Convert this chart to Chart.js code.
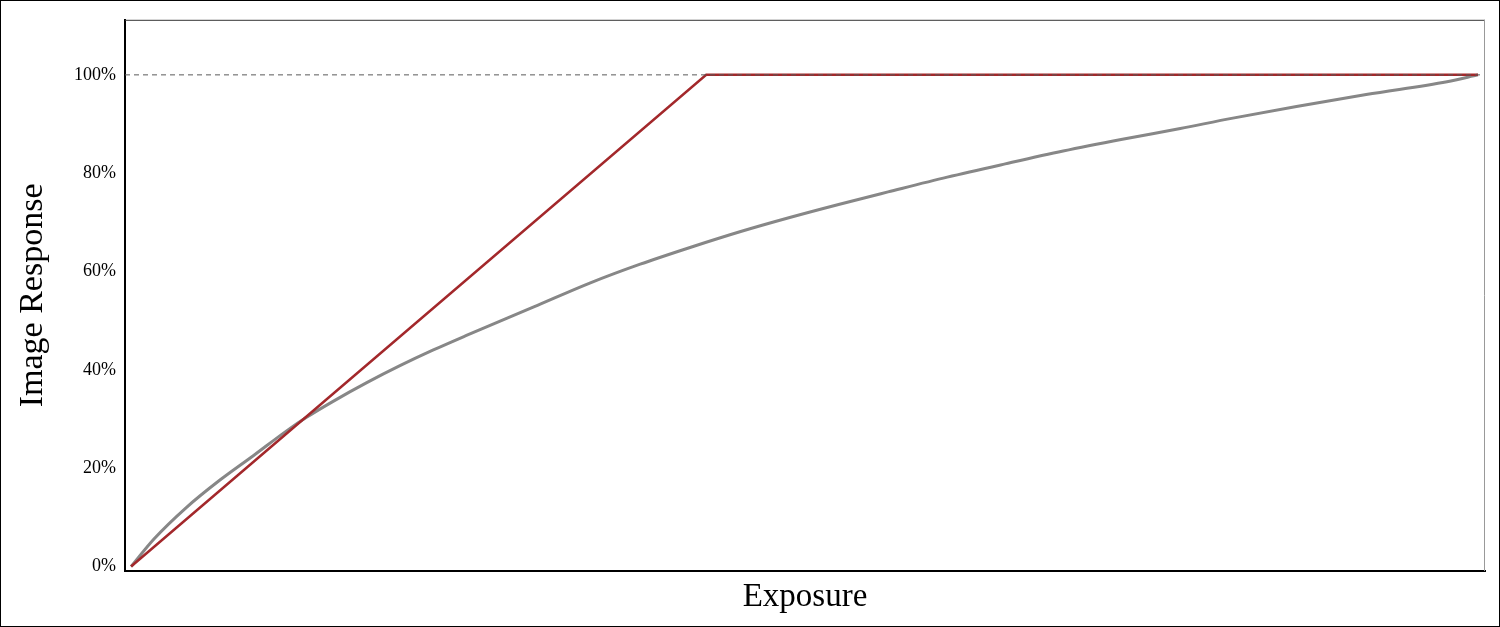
<!DOCTYPE html>
<html>
<head>
<meta charset="utf-8">
<style>
  html, body { margin: 0; padding: 0; background: #fff; }
  canvas { display: block; }
</style>
<script src="https://cdn.jsdelivr.net/npm/chart.js@4.4.1/dist/chart.umd.min.js"></script>
</head>
<body>
<canvas id="responseChart" width="1500" height="627"></canvas>
<script>
// exposure as a fraction of the full range (0..1), response in %
const grayExposure = [0, 0.017, 0.041, 0.066, 0.091, 0.116, 0.130, 0.150, 0.175, 0.200, 0.224, 0.249,
    0.274, 0.299, 0.341, 0.378, 0.415, 0.452, 0.489, 0.526, 0.562, 0.606, 0.649, 0.692, 0.736,
    0.779, 0.818, 0.917, 0.977, 1.0];
const grayResponse = [0, 5.6, 12.0, 17.6, 22.6, 27.7, 30.3, 33.6, 37.4, 40.9, 44.0, 47.0,
    49.9, 52.8, 57.7, 61.5, 64.9, 68.1, 71.0, 73.7, 76.2, 79.2, 81.9, 84.5, 86.9,
    89.1, 91.2, 96.0, 98.6, 100];

const redExposure = [0, 0.427, 1.0];
const redResponse = [0, 100, 100];

const yTicks = [0, 20, 40, 60, 80, 100];
const saturationLevel = 100;

const xMin = -0.0045, xMax = 1.0052;
const yMin = -0.9, yMax = 111.2;

const toPoints = (xs, ys) => xs.map((x, i) => ({ x: x, y: ys[i] }));

const framePlugin = {
    id: "frame",
    afterDraw(chart) {
        const { ctx, chartArea: a, width, height } = chart;
        ctx.save();
        ctx.lineWidth = 1;
        ctx.strokeStyle = "#333";
        ctx.beginPath();
        ctx.moveTo(a.left, a.top + 0.5);
        ctx.lineTo(a.right, a.top + 0.5);
        ctx.stroke();
        ctx.strokeStyle = "#999";
        ctx.beginPath();
        ctx.moveTo(a.right - 0.5, a.top);
        ctx.lineTo(a.right - 0.5, a.bottom);
        ctx.stroke();
        // outer border round the picture
        ctx.strokeStyle = "#000";
        ctx.strokeRect(0.5, 0.5, width - 1, height - 1);
        ctx.restore();
    }
};

new Chart(document.getElementById("responseChart").getContext("2d"), {
    type: "line",
    data: {
        datasets: [{
            label: "Saturation",
            data: toPoints([xMin, xMax], [saturationLevel, saturationLevel]),
            borderColor: "#5a5a5a",
            borderWidth: 1,
            borderDash: [5, 4],
            pointRadius: 0
        }, {
            label: "Linear",
            data: toPoints(redExposure, redResponse),
            borderColor: "#a3282b",
            borderWidth: 2.5,
            pointRadius: 0
        }, {
            label: "Film",
            data: toPoints(grayExposure, grayResponse),
            borderColor: "#878787",
            borderWidth: 3,
            pointRadius: 0,
            cubicInterpolationMode: "monotone"
        }]
    },
    options: {
        responsive: false,
        animation: false,
        layout: { padding: { left: 0, right: 15, top: 18, bottom: 0 } },
        plugins: {
            legend: { display: false },
            tooltip: { enabled: false }
        },
        scales: {
            x: {
                type: "linear",
                min: xMin,
                max: xMax,
                grid: { display: false },
                border: { color: "#000", width: 2 },
                ticks: { display: false },
                title: {
                    display: true,
                    text: "Exposure",
                    color: "#000",
                    font: { family: "'Liberation Serif', 'Times New Roman', serif", size: 33 },
                    padding: { top: 0, bottom: 10 }
                },
                afterFit: s => { s.height = 56; }
            },
            y: {
                type: "linear",
                min: yMin,
                max: yMax,
                grid: { display: false, drawTicks: false },
                border: { color: "#000", width: 2 },
                afterBuildTicks: s => { s.ticks = yTicks.map(v => ({ value: v })); },
                ticks: {
                    padding: 9,
                    color: "#000",
                    font: { family: "'Liberation Serif', 'Times New Roman', serif", size: 18 },
                    callback: v => v + "%"
                },
                title: {
                    display: true,
                    text: "Image Response",
                    color: "#000",
                    font: { family: "'Liberation Serif', 'Times New Roman', serif", size: 34 },
                    padding: { top: 13, bottom: 0 }
                },
                afterFit: s => { s.width = 125; }
            }
        }
    },
    plugins: [framePlugin]
});
</script>
</body>
</html>
